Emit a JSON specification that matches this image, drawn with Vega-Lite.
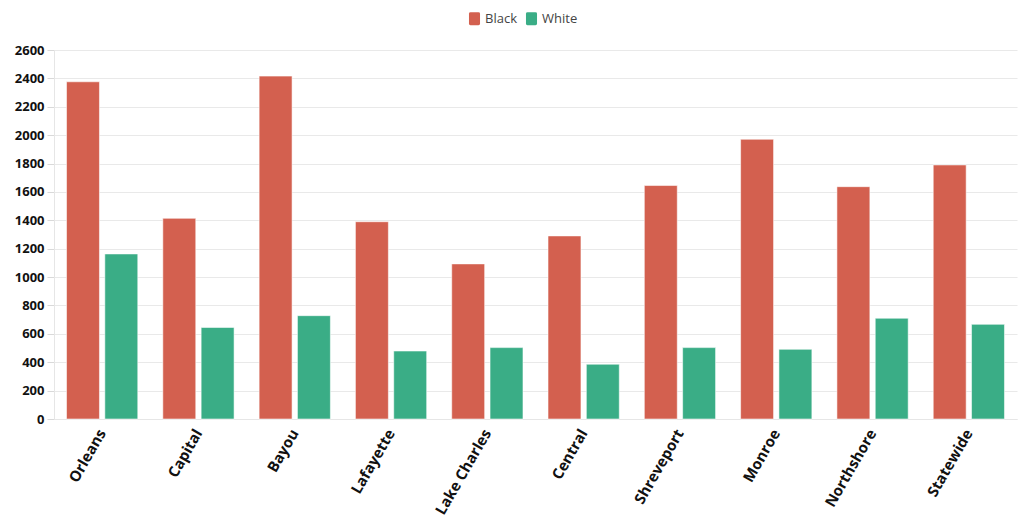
{
  "$schema": "https://vega.github.io/schema/vega-lite/v6.json",
  "autosize": {"type": "none"},
  "width": 963,
  "height": 369,
  "padding": {"left": 54, "top": 50, "right": 3, "bottom": 99},
  "background": "#ffffff",
  "config": {
    "font": "Open Sans",
    "view": {"stroke": null},
    "axis": {
      "gridColor": "#e9e9e9",
      "gridWidth": 1,
      "domainColor": "#e6e6e6",
      "tickColor": "#d9d9d9",
      "labelFont": "Open Sans",
      "labelFontWeight": "bold",
      "labelColor": "#111111",
      "title": null
    }
  },
  "data": {
    "values": [
      {"region": "Orleans", "race": "Black", "count": 2376},
      {"region": "Orleans", "race": "White", "count": 1163},
      {"region": "Capital", "race": "Black", "count": 1414},
      {"region": "Capital", "race": "White", "count": 645},
      {"region": "Bayou", "race": "Black", "count": 2416},
      {"region": "Bayou", "race": "White", "count": 728},
      {"region": "Lafayette", "race": "Black", "count": 1390},
      {"region": "Lafayette", "race": "White", "count": 479},
      {"region": "Lake Charles", "race": "Black", "count": 1093},
      {"region": "Lake Charles", "race": "White", "count": 503},
      {"region": "Central", "race": "Black", "count": 1290},
      {"region": "Central", "race": "White", "count": 386},
      {"region": "Shreveport", "race": "Black", "count": 1645},
      {"region": "Shreveport", "race": "White", "count": 503},
      {"region": "Monroe", "race": "Black", "count": 1971},
      {"region": "Monroe", "race": "White", "count": 491},
      {"region": "Northshore", "race": "Black", "count": 1637},
      {"region": "Northshore", "race": "White", "count": 710},
      {"region": "Statewide", "race": "Black", "count": 1790},
      {"region": "Statewide", "race": "White", "count": 667}
    ]
  },
  "mark": {"type": "bar", "stroke": "#ffffff", "strokeOpacity": 0.55, "strokeWidth": 1},
  "encoding": {
    "x": {
      "field": "region",
      "type": "nominal",
      "sort": null,
      "scale": {"paddingInner": 0.26, "paddingOuter": 0.13},
      "axis": {
        "labelAngle": -60,
        "labelFontSize": 15,
        "labelPadding": 11,
        "bandPosition": 0.56,
        "ticks": false,
        "grid": false,
        "domain": true
      }
    },
    "xOffset": {
      "field": "race",
      "type": "nominal",
      "scale": {"paddingInner": 0.14}
    },
    "y": {
      "field": "count",
      "type": "quantitative",
      "scale": {"domain": [0, 2600], "nice": false},
      "axis": {
        "values": [0, 200, 400, 600, 800, 1000, 1200, 1400, 1600, 1800, 2000, 2200, 2400, 2600],
        "format": "d",
        "labelFontSize": 13,
        "tickSize": 7,
        "labelPadding": 3,
        "domain": true
      }
    },
    "color": {
      "field": "race",
      "type": "nominal",
      "scale": {"domain": ["Black", "White"], "range": ["#d3604f", "#3aad86"]},
      "legend": {
        "title": null,
        "orient": "none",
        "direction": "horizontal",
        "legendX": 414,
        "legendY": -38,
        "symbolType": "M -0.62 -1 L 0.62 -1 Q 0.85 -1 0.85 -0.77 L 0.85 0.77 Q 0.85 1 0.62 1 L -0.62 1 Q -0.85 1 -0.85 0.77 L -0.85 -0.77 Q -0.85 -1 -0.62 -1 Z",
        "symbolSize": 169,
        "symbolStrokeWidth": 0,
        "symbolOpacity": 1,
        "labelFontSize": 13,
        "labelColor": "#444444",
        "labelFont": "Open Sans",
        "labelFontWeight": "normal",
        "columnPadding": 8,
        "labelOffset": 4
      }
    }
  }
}
